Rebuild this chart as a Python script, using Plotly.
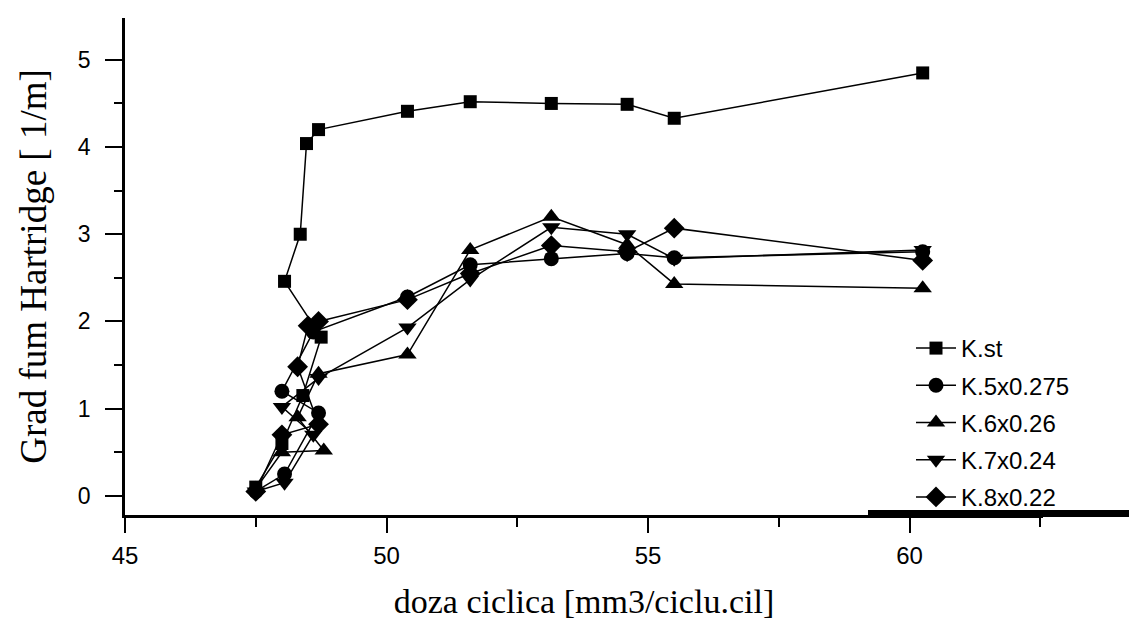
import plotly.graph_objects as go

# ---- data ----
kst_x = [47.5, 48.0, 48.4, 48.75, 48.05, 48.35, 48.47, 48.7, 50.4, 51.6, 53.15, 54.6, 55.5, 60.25]
kst_y = [0.1, 0.6, 1.15, 1.82, 2.46, 3.0, 4.04, 4.2, 4.41, 4.52, 4.5, 4.49, 4.33, 4.85]

k5_x = [47.5, 48.05, 48.7, 48.0, 48.6, 50.4, 51.6, 53.15, 54.6, 55.5, 60.25]
k5_y = [0.05, 0.25, 0.95, 1.2, 1.88, 2.28, 2.65, 2.72, 2.78, 2.73, 2.8]

k6_x = [47.5, 48.0, 48.8, 48.3, 48.7, 50.4, 51.6, 53.15, 54.6, 55.5, 60.25]
k6_y = [0.08, 0.5, 0.52, 0.9, 1.4, 1.62, 2.82, 3.2, 2.88, 2.43, 2.38]

k7_x = [47.5, 48.05, 48.6, 48.0, 48.7, 50.4, 51.6, 53.15, 54.6, 55.5, 60.25]
k7_y = [0.05, 0.15, 0.7, 1.02, 1.35, 1.93, 2.48, 3.08, 3.0, 2.72, 2.82]

k8_x = [47.5, 48.0, 48.7, 48.3, 48.5, 48.7, 50.4, 51.6, 53.15, 54.6, 55.5, 60.25]
k8_y = [0.05, 0.7, 0.82, 1.48, 1.95, 2.0, 2.25, 2.55, 2.87, 2.8, 3.07, 2.7]

series_names = ["K.st", "K.5x0.275", "K.6x0.26", "K.7x0.24", "K.8x0.22"]
x_ticks = [45, 50, 55, 60]
y_ticks = [0, 1, 2, 3, 4, 5]

series = [
    (series_names[0], kst_x, kst_y, "square", 13),
    (series_names[1], k5_x, k5_y, "circle", 15),
    (series_names[2], k6_x, k6_y, "triangle-up", 16),
    (series_names[3], k7_x, k7_y, "triangle-down", 16),
    (series_names[4], k8_x, k8_y, "diamond", 16),
]

fig = go.Figure()
for i, (name, xs, ys, sym, sz) in enumerate(series):
    fig.add_trace(go.Scatter(
        x=xs, y=ys, name=name, mode="lines+markers",
        line=dict(color="black", width=1.5),
        marker=dict(symbol=sym, size=sz, color="black"),
        legendgroup=f"g{i}",
    ))

# page body has an 8px margin: plot area in page pixels is x 125..1043, y 18..515
OFF = 8
W, H = 1137, 641
L, T = 125 - OFF, 18 - OFF
R = W - (1043 - OFF)
B = H - (515 - OFF)
PW, PH = W - L - R, H - T - B

def px_x(p):  # page pixel -> paper x
    return (p - 125) / PW

def px_y(p):  # page pixel -> paper y
    return (515 - p) / PH

fig.update_layout(
    width=W, height=H,
    margin=dict(l=L, r=R, t=T, b=B),
    paper_bgcolor="white", plot_bgcolor="white",
    font=dict(family="Liberation Sans, Arial", color="black"),
    showlegend=True,
    legend=dict(
        x=px_x(911), y=px_y(326),
        xanchor="left", yanchor="top",
        bgcolor="rgba(0,0,0,0)",
        font=dict(family="Liberation Sans, Arial", size=24, color="black"),
        traceorder="grouped", tracegroupgap=3,
        itemwidth=40,
    ),
    xaxis=dict(
        range=[45, 62.55], tickvals=x_ticks, ticktext=[str(v) for v in x_ticks],
        showgrid=False, zeroline=False,
        showline=True, linecolor="black", linewidth=2.5,
        ticks="outside", ticklen=15, tickwidth=2, tickcolor="black",
        minor=dict(tickvals=[47.5, 52.5, 57.5, 62.5], ticks="outside", ticklen=9, tickwidth=2, tickcolor="black"),
        tickfont=dict(family="Liberation Sans, Arial", size=24, color="black"),
        ticklabelstandoff=2,
        title=dict(text="doza ciclica [mm3/ciclu.cil]",
                   font=dict(family="Liberation Serif, Times New Roman", size=34, color="black"), standoff=22),
    ),
    yaxis=dict(
        range=[-0.22, 5.48], tickvals=y_ticks, ticktext=[str(v) for v in y_ticks],
        showgrid=False, zeroline=False,
        showline=True, linecolor="black", linewidth=2.5,
        ticks="outside", ticklen=17, tickwidth=2, tickcolor="black",
        minor=dict(tickvals=[0.5, 1.5, 2.5, 3.5, 4.5], ticks="outside", ticklen=8, tickwidth=2, tickcolor="black"),
        tickfont=dict(family="Liberation Sans, Arial", size=23, color="black"),
        ticklabelstandoff=10,
        title=dict(text="Grad fum Hartridge [ 1/m]",
                   font=dict(family="Liberation Serif, Times New Roman", size=37, color="black"), standoff=20),
    ),
)

# thick black bar under the legend (as in the scanned original)
fig.add_shape(type="rect", xref="paper", yref="paper",
              x0=px_x(868), x1=px_x(1137),
              y0=px_y(517), y1=px_y(510),
              fillcolor="black", line=dict(width=0), layer="above")

fig.write_html("out.html")
